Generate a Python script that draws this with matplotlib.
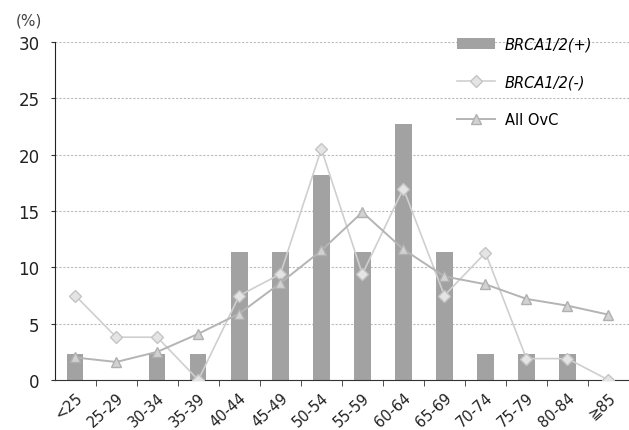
import matplotlib.pyplot as plt
import numpy as np

plt.rcParams['font.family'] = ['DejaVu Sans', 'Noto Sans CJK JP']

# Age groups and share of cases per group (%)
age_groups = ['<25', '25-29', '30-34', '35-39', '40-44', '45-49', '50-54',
              '55-59', '60-64', '65-69', '70-74', '75-79', '80-84', '≧85']
brca_pos = [2.3, 0, 2.3, 2.3, 11.4, 11.4, 18.2, 11.4, 22.7, 11.4, 2.3, 2.3, 2.3, 0]
brca_neg = [7.5, 3.8, 3.8, 0, 7.5, 9.4, 20.5, 9.4, 17.0, 7.5, 11.3, 1.9, 1.9, 0]
all_ovc = [2.0, 1.6, 2.5, 4.1, 5.9, 8.6, 11.5, 14.9, 11.6, 9.2, 8.5, 7.2, 6.6, 5.8]

x = np.arange(len(age_groups))

fig = plt.figure(figsize=(6.29, 4.31), dpi=100)
ax = fig.add_axes([0.087, 0.116, 0.913, 0.784])

bars = ax.bar(x, brca_pos, width=0.4, color='#a2a2a2', label='BRCA1/2(+)', zorder=2)
neg_line, = ax.plot(x, brca_neg, color='#cfcfcf', lw=1.2, marker='D', ms=6,
                    mfc='#e4e4e4', mec='#c4c4c4', label='BRCA1/2(-)', zorder=3)
all_line, = ax.plot(x, all_ovc, color='#b4b4b4', lw=1.4, marker='^', ms=7,
                    mfc='#d2d2d2', mec='#b0b0b0', label='All OvC', zorder=3)

ax.set_xlim(-0.5, len(age_groups) - 0.5)
ax.set_ylim(0, 30)
ax.set_yticks(np.arange(0, 31, 5))
ax.tick_params(axis='y', labelsize=12, length=3, pad=8, color='#333333',
               labelcolor='#222222')
ax.yaxis.grid(True, color='#bbbbbb', lw=0.8, ls=(0, (2, 1.5)), zorder=0)

# category labels sit between boundary ticks
ax.set_xticks(x)
ax.set_xticklabels(age_groups, rotation=42, ha='right', rotation_mode='anchor',
                   fontsize=10.5, color='#222222')
ax.tick_params(axis='x', which='major', length=0, pad=7)
ax.set_xticks(x[:-1] + 0.5, minor=True)
ax.tick_params(axis='x', which='minor', length=4, color='#333333')

for side in ['top', 'right']:
    ax.spines[side].set_visible(False)
ax.spines['left'].set_color('#222222')
ax.spines['bottom'].set_color('#333333')
ax.spines['bottom'].set_linestyle((0, (3, 1)))

fig.text(0.025, 0.94, '(%)', fontsize=11, color='#444444')

leg = ax.legend([bars, neg_line, all_line], ['BRCA1/2(+)', 'BRCA1/2(-)', 'All OvC'],
                loc='upper left', bbox_to_anchor=(0.677, 1.055), frameon=False,
                fontsize=10.5, handlelength=2.6, labelspacing=1.55, handletextpad=0.7)
for t in leg.get_texts()[:2]:
    t.set_fontstyle('italic')

fig.savefig('out.png', dpi=100)
